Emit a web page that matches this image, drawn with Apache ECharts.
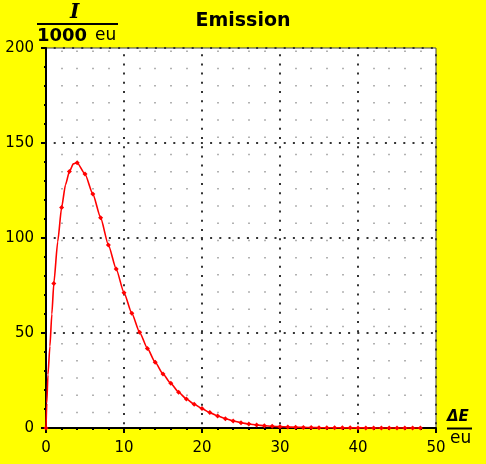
<!DOCTYPE html>
<html>
<head>
<meta charset="utf-8">
<title>Emission</title>
<script src="https://cdn.jsdelivr.net/npm/echarts@6/dist/echarts.min.js"></script>
<style>
  html, body { margin: 0; padding: 0; background: #ffff00; }
  #chart { width: 486px; height: 464px; }
</style>
</head>
<body>
<div id="chart"></div>
<script>
// energy difference (eu) and intensity (I / 1000 eu)
var energy = [0, 0.1, 0.25, 0.5, 0.75, 1, 1.5, 2, 2.5, 3, 3.5, 4, 5, 6, 7, 8, 9, 10,
              11, 12, 13, 14, 15, 16, 17, 18, 19, 20, 21, 22, 23, 24, 25, 26, 27, 28, 29, 30,
              31, 32, 33, 34, 35, 36, 37, 38, 39, 40, 41, 42, 43, 44, 45, 46, 47, 48];
var intensity = [0, 13, 28, 43, 60, 76, 98, 116, 128, 135, 139, 139.6, 133.7, 123.2, 110.7, 96.3, 83.7, 71.2,
                 60.4, 50.4, 41.9, 34.6, 28.4, 23.5, 18.8, 15.3, 12.5, 10.2, 8.1, 6.3, 4.9, 3.7, 2.8, 2.1, 1.6, 1.2, 0.9, 0.7,
                 0.55, 0.42, 0.32, 0.25, 0.19, 0.15, 0.12, 0.09, 0.07, 0.05, 0.04, 0.03, 0.03, 0.02, 0.02, 0.01, 0.01, 0.01];
var xTicks = { min: 0, max: 50, interval: 10 };
var yTicks = { min: 0, max: 200, interval: 50 };

var points = energy.map(function (e, i) {
    var p = { value: [e, intensity[i]] };
    if (!Number.isInteger(e)) p.symbol = 'none';  // markers only on whole eu steps
    return p;
});

var myChart = echarts.init(document.getElementById('chart'));
var font = '"DejaVu Sans", Verdana, sans-serif';

myChart.setOption({
    backgroundColor: '#ffff00',
    animation: false,
    title: {
        text: 'Emission',
        left: 'center',
        top: 7,
        textStyle: { fontFamily: font, fontSize: 19, fontWeight: 'bold', color: '#000' }
    },
    grid: {
        left: 46, right: 50, top: 48, bottom: 36,
        show: true,
        backgroundColor: '#fff',
        borderColor: '#444',
        borderWidth: 1
    },
    xAxis: {
        type: 'value',
        min: xTicks.min, max: xTicks.max, interval: xTicks.interval,
        axisLine: { onZero: false, lineStyle: { color: '#000', width: 2 } },
        axisTick: { length: 5, lineStyle: { color: '#000', width: 2 } },
        minorTick: { show: true, splitNumber: 5, length: 2, lineStyle: { color: '#000', width: 2 } },
        axisLabel: { margin: 13, fontFamily: font, fontSize: 15, color: '#000' },
        splitLine: { lineStyle: { color: '#333', width: 2, type: [2, 7.2], dashOffset: 3 } },
        minorSplitLine: { show: true, lineStyle: { color: '#999', width: 1.5, type: [1.5, 15.7], dashOffset: 14.7 } }
    },
    yAxis: {
        type: 'value',
        min: yTicks.min, max: yTicks.max, interval: yTicks.interval,
        axisLine: { show: true, lineStyle: { color: '#000', width: 2 } },
        axisTick: { show: true, length: 5, lineStyle: { color: '#000', width: 2 } },
        minorTick: { show: true, splitNumber: 5, length: 2, lineStyle: { color: '#000', width: 2 } },
        axisLabel: { margin: 12, fontFamily: font, fontSize: 15, color: '#000' },
        splitLine: { lineStyle: { color: '#333', width: 2, type: [2, 7.2], dashOffset: 1.5 } }
    },
    series: [{
        type: 'line',
        data: points,
        smooth: 0.2,
        smoothMonotone: 'x',
        symbol: 'diamond',
        symbolSize: 5,
        showAllSymbol: true,
        lineStyle: { color: '#ff0000', width: 1.6 },
        itemStyle: { color: '#ff0000' }
    }],
    graphic: [
        // y axis unit: I / 1000 eu
        { type: 'text', left: 70, top: 3,
          style: { text: 'I', font: 'italic bold 20px "DejaVu Serif", serif', fill: '#000' } },
        { type: 'line', shape: { x1: 37, y1: 24, x2: 118, y2: 24 },
          style: { stroke: '#000', lineWidth: 2 } },
        { type: 'text', left: 37, top: 27,
          style: { text: '1000', font: 'bold 18px "DejaVu Sans", sans-serif', fill: '#000' } },
        { type: 'text', left: 95, top: 27,
          style: { text: 'eu', font: '17px "DejaVu Sans", sans-serif', fill: '#000' } },
        // x axis unit: ΔE / eu
        { type: 'text', left: 447, top: 410,
          style: { text: 'ΔE', font: 'italic bold 15px "DejaVu Sans", sans-serif', fill: '#000' } },
        { type: 'line', shape: { x1: 447, y1: 428.5, x2: 472, y2: 428.5 },
          style: { stroke: '#000', lineWidth: 2 } },
        { type: 'text', left: 450, top: 430,
          style: { text: 'eu', font: '17px "DejaVu Sans", sans-serif', fill: '#000' } }
    ]
});
</script>
</body>
</html>
